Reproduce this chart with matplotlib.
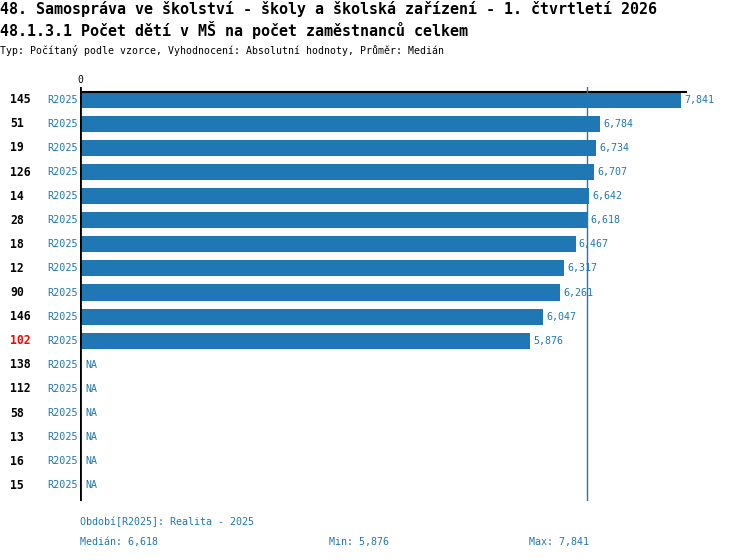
import matplotlib
matplotlib.use('Agg')
import matplotlib.pyplot as plt
import matplotlib.transforms as mtransforms

# data
ids = ['145', '51', '19', '126', '14', '28', '18', '12', '90', '146', '102',
       '138', '112', '58', '13', '16', '15']
period = 'R2025'
values = [7841, 6784, 6734, 6707, 6642, 6618, 6467, 6317, 6261, 6047, 5876,
          None, None, None, None, None, None]
highlight = '102'
median_val = 6618
min_val = 5876
max_val = 7841

title1 = '48. Samospráva ve školství - školy a školská zařízení - 1. čtvrtletí 2026'
title2 = '48.1.3.1 Počet dětí v MŠ na počet zaměstnanců celkem'
subtitle = 'Typ: Počítaný podle vzorce, Vyhodnocení: Absolutní hodnoty, Průměr: Medián'
footer_period = 'Období[R2025]: Realita - 2025'

BLUE = '#1f77b4'
W, H = 750, 560
FONT = 'DejaVu Sans Mono'


def fmt(v):
    return '{:,}'.format(v)


def fx(px):
    return px / W


def fy(py):
    return 1 - py / H


fig = plt.figure(figsize=(W / 100, H / 100), dpi=100)
ax = fig.add_axes([fx(80), fy(500.5), fx(740) - fx(80), fy(87) - fy(500.5)])
scale = 601 / 7841  # px per unit
ax.set_xlim(0, 660 / scale)
ax.set_ylim(16.63, -0.527)
ax.axis('off')

bar_h = 0.667
for i, v in enumerate(values):
    if v is None:
        ax.text(5 / scale, i, 'NA', color=BLUE, fontsize=7.2, family=FONT,
                va='center', ha='left')
        continue
    ax.barh(i, v, height=bar_h, color=BLUE)
    ax.text(v + 3 / scale, i, fmt(v), color=BLUE, fontsize=7.2, family=FONT,
            va='center', ha='left')

# axis lines
ax.axvline(0, color='black', lw=2)
ax.plot([0, max_val + 4.5 / scale], [-bar_h / 2, -bar_h / 2], color='black', lw=1.5)
ax.axvline(median_val, color=BLUE, lw=1)
ax.text(0, -0.6, '0', fontsize=7, family=FONT, ha='center', va='bottom')

# row labels
tr = mtransforms.blended_transform_factory(fig.transFigure, ax.transData)
for i, lab in enumerate(ids):
    ax.text(fx(10), i, lab, transform=tr, fontsize=8.3, family=FONT,
            fontweight='bold', color='red' if lab == highlight else 'black',
            va='center', ha='left')
    ax.text(fx(78), i, period, transform=tr, fontsize=7.3, family=FONT,
            color=BLUE, va='center', ha='right')

# titles
fig.text(0, fy(9), title1, fontsize=10.8, family=FONT, fontweight='bold', va='center')
fig.text(0, fy(30), title2, fontsize=10.8, family=FONT, fontweight='bold', va='center')
fig.text(0, fy(50), subtitle, fontsize=7.1, family=FONT, va='center')

# footer
fig.text(fx(80), fy(522), footer_period, fontsize=7.2, family=FONT, color=BLUE, va='center')
fig.text(fx(80), fy(542), 'Medián: ' + fmt(median_val), fontsize=7.2, family=FONT, color=BLUE, va='center')
fig.text(fx(329), fy(542), 'Min: ' + fmt(min_val), fontsize=7.2, family=FONT, color=BLUE, va='center')
fig.text(fx(529), fy(542), 'Max: ' + fmt(max_val), fontsize=7.2, family=FONT, color=BLUE, va='center')

fig.savefig('out.png', dpi=100)
